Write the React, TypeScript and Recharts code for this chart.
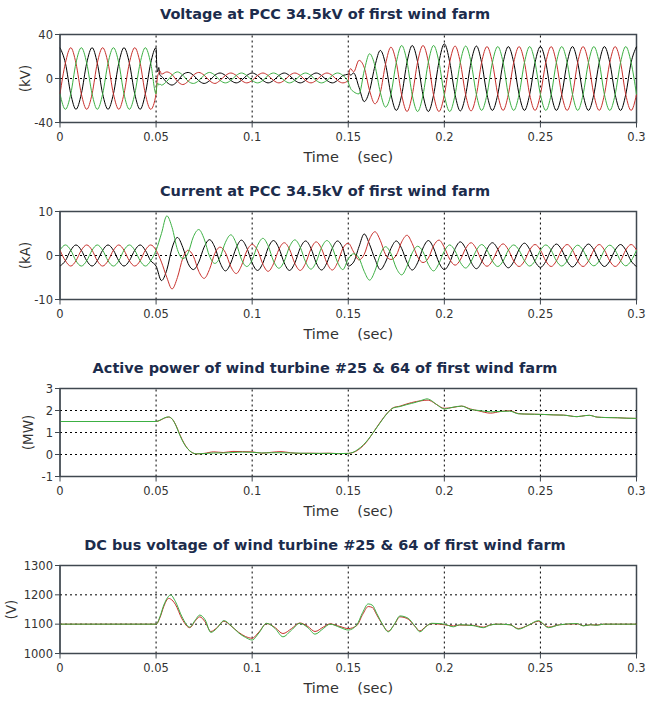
import React from "react";
import { LineChart, Line, XAxis, YAxis, ReferenceLine, ReferenceArea } from "recharts";

const timeTicks = [0, 0.05, 0.1, 0.15, 0.2, 0.25, 0.3];
const timeGridLines = [0.05, 0.1, 0.15, 0.2, 0.25];

// sample instants, 1/360 s apart (every 60 degrees of a 60 Hz cycle)
const iTime = [
  0, 0.0028, 0.0056, 0.0083, 0.0111, 0.0139, 0.0167, 0.0194, 0.0222, 0.025, 0.0278, 0.0306,
  0.0333, 0.0361, 0.0389, 0.0417, 0.0444, 0.0472, 0.05, 0.0528, 0.0556, 0.0583, 0.0611, 0.0639,
  0.0667, 0.0694, 0.0722, 0.075, 0.0778, 0.0806, 0.0833, 0.0861, 0.0889, 0.0917, 0.0944, 0.0972,
  0.1, 0.1028, 0.1056, 0.1083, 0.1111, 0.1139, 0.1167, 0.1194, 0.1222, 0.125, 0.1278, 0.1306,
  0.1333, 0.1361, 0.1389, 0.1417, 0.1444, 0.1472, 0.15, 0.1528, 0.1556, 0.1583, 0.1611, 0.1639,
  0.1667, 0.1694, 0.1722, 0.175, 0.1778, 0.1806, 0.1833, 0.1861, 0.1889, 0.1917, 0.1944, 0.1972,
  0.2, 0.2028, 0.2056, 0.2083, 0.2111, 0.2139, 0.2167, 0.2194, 0.2222, 0.225, 0.2278, 0.2306,
  0.2333, 0.2361, 0.2389, 0.2417, 0.2444, 0.2472, 0.25, 0.2528, 0.2556, 0.2583, 0.2611, 0.2639,
  0.2667, 0.2694, 0.2722, 0.275, 0.2778, 0.2806, 0.2833, 0.2861, 0.2889, 0.2917, 0.2944, 0.2972,
  0.3,
];

// same instants plus a few extra points on the fault edges
const vTime = [
  0, 0.0028, 0.0056, 0.0083, 0.0111, 0.0139, 0.0167, 0.0194, 0.0222, 0.025, 0.0278, 0.0306,
  0.0333, 0.0361, 0.0389, 0.0417, 0.0444, 0.0472, 0.05,
  0.0503, 0.0508, 0.0514, 0.052,
  0.0528, 0.0556, 0.0583, 0.0611, 0.0639,
  0.0667, 0.0694, 0.0722, 0.075, 0.0778, 0.0806, 0.0833, 0.0861, 0.0889, 0.0917, 0.0944, 0.0972,
  0.1, 0.1028, 0.1056, 0.1083, 0.1111, 0.1139, 0.1167, 0.1194, 0.1222, 0.125, 0.1278, 0.1306,
  0.1333, 0.1361, 0.1389, 0.1417, 0.1444, 0.1472, 0.15,
  0.1505, 0.1512,
  0.1528, 0.1556, 0.1583, 0.1611, 0.1639,
  0.1667, 0.1694, 0.1722, 0.175, 0.1778, 0.1806, 0.1833, 0.1861, 0.1889, 0.1917, 0.1944, 0.1972,
  0.2, 0.2028, 0.2056, 0.2083, 0.2111, 0.2139, 0.2167, 0.2194, 0.2222, 0.225, 0.2278, 0.2306,
  0.2333, 0.2361, 0.2389, 0.2417, 0.2444, 0.2472, 0.25, 0.2528, 0.2556, 0.2583, 0.2611, 0.2639,
  0.2667, 0.2694, 0.2722, 0.275, 0.2778, 0.2806, 0.2833, 0.2861, 0.2889, 0.2917, 0.2944, 0.2972,
  0.3,
];

// voltage at PCC, kV
const vBlack = [
  28, 14, -14, -28, -14, 14, 28, 14, -14, -28, -14, 14, 28, 14, -14, -28, -14, 14, 28,
  14, 6, 10, 3,
  2, -3.5, -6, -2.5, 3.5, 5.5,
  3, -2, -4.5, -2, 3,
  5, 2.75, -1.75, -4, -1.75, 2.75, 5, 2.75, -1.75, -4, -1.75, 2.75,
  5, 2.75, -1.75, -4, -1.75, 2.75, 5, 2.75, -1.75, -4, -1.75, 2.75,
  4,
  4.5, 3,
  5, -8, -21, -11, 11.5,
  25.5, 13, -14.25, -29, -15, 15,
  30, 15, -15, -30, -15, 15,
  31.5, 15, -14.75, -29.5, -14.75, 14.75,
  29.5,
  14.5, -14.5, -29, -14.5, 14.5,
  29, 14.5, -14.5, -29, -14.5, 14.5, 29, 14.5, -14.5, -29, -14.5, 14.5,
  29, 14.5, -14.5, -29, -14.5, 14.5, 29, 14.5, -14.5, -29, -14.5, 14.5,
  29,
];
const vRed = [
  -14, 14, 28, 14, -14, -28, -14, 14, 28, 14, -14, -28, -14, 14, 28, 14, -14, -28, -14,
  -6, 2, 5, 7,
  4, 6, 3.5, -2.5, -5.5, -2.5,
  3, 5.5, 3, -2, -4.5,
  -1.75, 2.75, 5, 2.75, -1.75, -4, -1.75, 2.75, 5, 2.75, -1.75, -4,
  -1.75, 2.75, 5, 2.75, -1.75, -4, -1.75, 2.75, 5, 2.75, -1.75, -4,
  -1.75,
  6, 9,
  6, 16.5, 10, -11, -23,
  -12.75, 13, 28.5, 14.5, -15, -30,
  -15, 15, 30, 15, -15, -30,
  -15, 15, 29.5, 14.75, -14.75, -29.5,
  -14.75,
  14.5, 29, 14.5, -14.5, -29,
  -14.5, 14.5, 29, 14.5, -14.5, -29, -14.5, 14.5, 29, 14.5, -14.5, -29,
  -14.5, 14.5, 29, 14.5, -14.5, -29, -14.5, 14.5, 29, 14.5, -14.5, -29,
  -14.5,
];
const vGreen = [
  -14, -28, -14, 14, 28, 14, -14, -28, -14, 14, 28, 14, -14, -28, -14, 14, 28, 14, -14,
  -8, -4, -6, -5,
  -6, -2.5, 3, 6, 3, -2.5,
  -4.5, -2, 3, 5.5, 3,
  -1.75, -4, -1.75, 2.75, 5, 2.75, -1.75, -4, -1.75, 2.75, 5, 2.75,
  -1.75, -4, -1.75, 2.75, 5, 2.75, -1.75, -4, -1.75, 2.75, 5, 2.75,
  -3.5,
  -6, -9,
  -12, -14, 7, 22.5, 11.5,
  -12.75, -26, -14.25, 14.5, 30, 15,
  -15, -30, -15, 15, 30, 15,
  -15, -30, -14.75, 14.75, 29.5, 14.75,
  -14.75,
  -29, -14.5, 14.5, 29, 14.5,
  -14.5, -29, -14.5, 14.5, 29, 14.5, -14.5, -29, -14.5, 14.5, 29, 14.5,
  -14.5, -29, -14.5, 14.5, 29, 14.5, -14.5, -29, -14.5, 14.5, 29, 14.5,
  -14.5,
];

// current at PCC, kA
const iBlack = [
  -2.4, -1.2, 1.2, 2.4, 1.2, -1.2, -2.4, -1.2, 1.2, 2.4, 1.2, -1.2, -2.4, -1.2, 1.2, 2.4, 1.2, -1.2,
  -2.4,
  -5.7, -3.25, 1.7, 4.1, 1.85, -1.85, -3.2, -1.5, 1.9, 3.6, 1.85, -1.65,
  -3.5, -1.7, 1.75, 3.5, 1.75, -1.7, -3.4, -1.7, 1.7, 3.4, 1.7, -1.7,
  -3.4, -1.7, 1.7, 3.3, 1.65, -1.65, -3.3, -1.65, 1.65, 3.3, 1.65, -2.4,
  -1.5, 2.0, 4.9, 2.5, -0.8, -3.2, -1.5, 1.6, 3.3, 1.6, -1.6, -3.3,
  -1.65, 1.7, 3.4, 1.7, -1.6, -3.2, -1.6, 1.55, 3.1, 1.55, -1.5, -3.0,
  -1.5, 1.45, 2.9, 1.45, -1.4, -2.8, -1.4, 1.4, 2.8, 1.4, -1.35, -2.7,
  -1.35, 1.3, 2.6, 1.3, -1.3, -2.6, -1.3, 1.3, 2.6, 1.3, -1.25, -2.5,
  -1.25, 1.25, 2.5, 1.25, -1.25, -2.5,
];
const iRed = [
  1.2, -1.2, -2.4, -1.2, 1.2, 2.4, 1.2, -1.2, -2.4, -1.2, 1.2, 2.4, 1.2, -1.2, -2.4, -1.2, 1.2, 2.4,
  1.2,
  -1.5, -5.0, -7.6, -5.0, -0.6, 1.2, -0.15, -3.6, -5.2, -3.15, 0.5, 1.9,
  0.65, -2.55, -4.1, -2.35, 1.05, 2.5, 1.2, -2.0, -3.6, -1.9, 1.4, 2.9,
  1.45, -1.8, -3.4, -1.75, 1.5, 3.1, 1.55, -1.7, -3.3, -1.65, 1.6, 2.8,
  0.8, -1.0, 0.25, 3.75, 5.4, 3.4, 0.2, -0.9, 0.05, 3.1, 4.6, 2.7,
  -0.3, -1.6, -0.6, 2.2, 3.5, 1.85, -0.85, -2.2, -1.0, 1.6, 2.9, 1.45,
  -1.15, -2.45, -1.2, 1.35, 2.65, 1.3, -1.25, -2.5, -1.25, 1.25, 2.5, 1.25,
  -1.25, -2.5, -1.25, 1.25, 2.5, 1.25, -1.25, -2.5, -1.25, 1.25, 2.5, 1.25,
  -1.25, -2.5, -1.25, 1.25, 2.5, 1.25,
];
const iGreen = [
  1.2, 2.4, 1.2, -1.2, -2.4, -1.2, 1.2, 2.4, 1.2, -1.2, -2.4, -1.2, 1.2, 2.4, 1.2, -1.2, -2.4, -1.2,
  1.2,
  5.0, 9.0, 6.4, 1.35, -0.7, 0.6, 4.25, 5.9, 3.8, -0.15, -1.8, -0.4,
  3.0, 4.7, 2.75, -0.85, -2.5, -1.0, 2.3, 3.9, 2.2, -1.25, -2.9, -1.3,
  1.95, 3.55, 1.9, -1.45, -3.1, -1.5, 1.8, 3.4, 1.8, -1.5, -3.2, -0.8,
  0.4, -0.6, -3.6, -5.6, -3.5, 0.3, 2.0, 0.45, -2.85, -4.4, -2.4, 0.6,
  2.1, 0.85, -2.05, -3.5, -1.8, 1.0, 2.4, 1.05, -1.55, -2.85, -1.4, 1.2,
  2.5, 1.25, -1.25, -2.5, -1.25, 1.2, 2.4, 1.2, -1.2, -2.4, -1.2, 1.2,
  2.4, 1.2, -1.2, -2.4, -1.2, 1.2, 2.35, 1.2, -1.2, -2.35, -1.2, 1.2,
  2.35, 1.2, -1.2, -2.35, -1.2, 1.2,
];

// active power of the two turbines, MW
const pTime = [
  0, 0.05, 0.052, 0.0545, 0.0565, 0.0585, 0.0605, 0.0625, 0.0645, 0.0665, 0.0685, 0.071, 0.075,
  0.08, 0.085, 0.09, 0.095, 0.1, 0.105, 0.11, 0.115, 0.12, 0.125, 0.13, 0.135, 0.14, 0.145, 0.15,
  0.1525, 0.155, 0.158, 0.1605, 0.163, 0.1665, 0.1705, 0.1735, 0.177, 0.1805, 0.1855, 0.1895,
  0.191, 0.1925, 0.196, 0.2, 0.2045, 0.209, 0.2135, 0.218, 0.224, 0.229, 0.234, 0.2385, 0.2415,
  0.247, 0.2515, 0.257, 0.262, 0.269, 0.2735, 0.2755, 0.2795, 0.284, 0.29, 0.295, 0.3,
];
const p25 = [
  1.5, 1.5, 1.55, 1.66, 1.7, 1.6, 1.3, 0.88, 0.52, 0.26, 0.1, 0.03, 0.05,
  0.12, 0.09, 0.14, 0.13, 0.12, 0.06, 0.1, 0.13, 0.08, 0.05, 0.06, 0.05, 0.06, 0.04, 0.05,
  0.09, 0.2, 0.42, 0.68, 1.0, 1.45, 1.9, 2.13, 2.2, 2.3, 2.41, 2.46,
  2.47, 2.45, 2.27, 2.1, 2.14, 2.2, 2.07, 1.98, 1.88, 1.95, 1.99, 1.86, 1.84,
  1.83, 1.82, 1.8, 1.79, 1.72, 1.77, 1.78, 1.7, 1.68, 1.67, 1.65, 1.64,
];
const p64 = [
  1.5, 1.5, 1.56, 1.67, 1.71, 1.6, 1.28, 0.85, 0.5, 0.25, 0.1, 0.03, 0.04,
  0.07, 0.07, 0.09, 0.11, 0.1, 0.07, 0.08, 0.08, 0.07, 0.06, 0.05, 0.05, 0.05, 0.04, 0.05,
  0.1, 0.23, 0.45, 0.7, 1.0, 1.43, 1.89, 2.12, 2.18, 2.27, 2.38, 2.5,
  2.53, 2.49, 2.27, 2.07, 2.15, 2.2, 2.05, 2.0, 1.94, 1.96, 1.97, 1.85, 1.84,
  1.83, 1.82, 1.8, 1.79, 1.72, 1.77, 1.78, 1.7, 1.68, 1.67, 1.65, 1.64,
];

// DC bus voltage of the two turbines, V
const dcTime = [
  0, 0.05, 0.052, 0.054, 0.0565, 0.0575, 0.06, 0.0635, 0.0675, 0.0705, 0.0727, 0.0755, 0.0785,
  0.0815, 0.0853, 0.089, 0.093, 0.0965, 0.1, 0.1035, 0.1075, 0.112, 0.116, 0.1205, 0.1248, 0.129,
  0.1327, 0.137, 0.1405, 0.1457, 0.15, 0.1544, 0.1575, 0.1604, 0.1625, 0.1648, 0.1678, 0.1708,
  0.174, 0.1769, 0.1812, 0.1845, 0.1873, 0.1905, 0.1934, 0.2, 0.2047, 0.208, 0.215, 0.2203,
  0.2235, 0.2273, 0.2342, 0.2385, 0.2436, 0.249, 0.2542, 0.26, 0.2691, 0.2724, 0.276, 0.2793,
  0.2828, 0.29, 0.3,
];
const dc25 = [
  1100, 1100, 1122, 1160, 1188, 1186, 1168, 1118, 1088, 1112, 1125, 1108, 1075,
  1087, 1110, 1094, 1072, 1058, 1052, 1073, 1102, 1088, 1068, 1085, 1104, 1092,
  1075, 1090, 1101, 1092, 1085, 1095, 1133, 1160, 1157, 1132, 1099, 1076,
  1099, 1125, 1117, 1094, 1077, 1093, 1102, 1098, 1094, 1097, 1096, 1090,
  1097, 1100, 1098, 1085, 1096, 1110, 1090, 1098, 1101, 1095, 1098, 1097,
  1100, 1100, 1100,
];
const dc64 = [
  1100, 1100, 1125, 1165, 1195, 1200, 1178, 1125, 1090, 1115, 1131, 1115, 1072,
  1085, 1112, 1095, 1070, 1055, 1046, 1070, 1103, 1085, 1057, 1080, 1103, 1088,
  1066, 1085, 1100, 1089, 1080, 1097, 1140, 1169, 1165, 1137, 1100, 1074,
  1100, 1128, 1120, 1095, 1074, 1092, 1103, 1100, 1091, 1098, 1095, 1088,
  1096, 1100, 1098, 1083, 1096, 1112, 1088, 1098, 1102, 1094, 1098, 1096,
  1100, 1100, 1100,
];

const BLACK = "#000000";
const RED = "#c8302c";
const GREEN = "#3cb043";
const FRAME = "#404850";

function rows(t: number[], cols: Record<string, number[]>) {
  return t.map((x, i) => {
    const r: Record<string, number> = { t: x };
    for (const k in cols) r[k] = cols[k][i];
    return r;
  });
}

type Series = { key: string; color: string };

type PanelProps = {
  top: number;
  title: string;
  unit: string;
  unitX: number;
  data: Record<string, number>[];
  series: Series[];
  domain: [number, number];
  ticks: number[];
  hGrid: number[];
};

function Panel({ top, title, unit, unitX, data, series, domain, ticks, hGrid }: PanelProps) {
  return (
    <div style={{ position: "absolute", left: 0, top, width: 661, height: 177 }}>
      <div
        style={{
          position: "absolute",
          left: 0,
          width: 650,
          top: 6,
          textAlign: "center",
          fontFamily: "'DejaVu Sans'",
          fontWeight: "bold",
          fontSize: 14.5,
          color: "#1c2c4c",
          whiteSpace: "nowrap",
        }}
      >
        {title}
      </div>
      <LineChart width={661} height={177} data={data} margin={{ top: 34.5, right: 24.5, bottom: 24.5, left: 0 }}>
        <XAxis
          dataKey="t"
          type="number"
          domain={[0, 0.3]}
          ticks={timeTicks}
          interval={0}
          height={30}
          tickSize={5}
          tickMargin={5}
          stroke={FRAME}
          tick={{ fontSize: 11.5, fill: "#333" }}
          label={{
            value: "Time\u00a0\u00a0\u00a0\u00a0(sec)",
            position: "bottom",
            offset: -1,
            style: { fontSize: 14.5, fill: "#333" },
          }}
        />
        <YAxis
          type="number"
          domain={domain}
          ticks={ticks}
          interval={0}
          width={60}
          tickSize={5}
          tickMargin={2}
          stroke={FRAME}
          tick={{ fontSize: 11.5, fill: "#333" }}
          label={{
            value: unit,
            angle: -90,
            position: "insideLeft",
            offset: unitX,
            style: { textAnchor: "middle", fontSize: 13.5, fill: "#333" },
          }}
        />
        {timeGridLines.map((x) => (
          <ReferenceLine key={"x" + x} x={x} stroke="#000" strokeDasharray="2 3" />
        ))}
        {hGrid.map((y) => (
          <ReferenceLine key={"y" + y} y={y} stroke="#000" strokeDasharray="2 3" />
        ))}
        {series.map((s) => (
          <Line
            key={s.key}
            dataKey={s.key}
            type="monotone"
            stroke={s.color}
            strokeWidth={1}
            dot={false}
            activeDot={false}
            isAnimationActive={false}
          />
        ))}
        <ReferenceArea x1={0} x2={0.3} y1={domain[0]} y2={domain[1]} fill="none" stroke={FRAME} strokeWidth={1.5} />
      </LineChart>
    </div>
  );
}

const phaseSeries: Series[] = [
  { key: "b", color: BLACK },
  { key: "r", color: RED },
  { key: "g", color: GREEN },
];
const turbineSeries: Series[] = [
  { key: "t25", color: RED },
  { key: "t64", color: GREEN },
];

export default function App() {
  const vData = rows(vTime, { b: vBlack, r: vRed, g: vGreen });
  const iData = rows(iTime, { b: iBlack, r: iRed, g: iGreen });
  const pData = rows(pTime, { t25: p25, t64: p64 });
  const dcData = rows(dcTime, { t25: dc25, t64: dc64 });
  return (
    <div
      style={{
        position: "absolute",
        left: 0,
        top: 0,
        width: 661,
        height: 702,
        background: "#fff",
        fontFamily: "'DejaVu Sans'",
      }}
    >
      <Panel
        top={0}
        title="Voltage at PCC 34.5kV of first wind farm"
        unit="(kV)"
        unitX={25}
        data={vData}
        series={phaseSeries}
        domain={[-40, 40]}
        ticks={[-40, 0, 40]}
        hGrid={[0]}
      />
      <Panel
        top={177}
        title="Current at PCC 34.5kV of first wind farm"
        unit="(kA)"
        unitX={25}
        data={iData}
        series={phaseSeries}
        domain={[-10, 10]}
        ticks={[-10, 0, 10]}
        hGrid={[0]}
      />
      <Panel
        top={354}
        title="Active power of wind turbine #25 & 64 of first wind farm"
        unit="(MW)"
        unitX={28}
        data={pData}
        series={turbineSeries}
        domain={[-1, 3]}
        ticks={[-1, 0, 1, 2, 3]}
        hGrid={[0, 1, 2]}
      />
      <Panel
        top={531}
        title="DC bus voltage of wind turbine #25 & 64 of first wind farm"
        unit="(V)"
        unitX={11}
        data={dcData}
        series={turbineSeries}
        domain={[1000, 1300]}
        ticks={[1000, 1100, 1200, 1300]}
        hGrid={[1100, 1200]}
      />
    </div>
  );
}
